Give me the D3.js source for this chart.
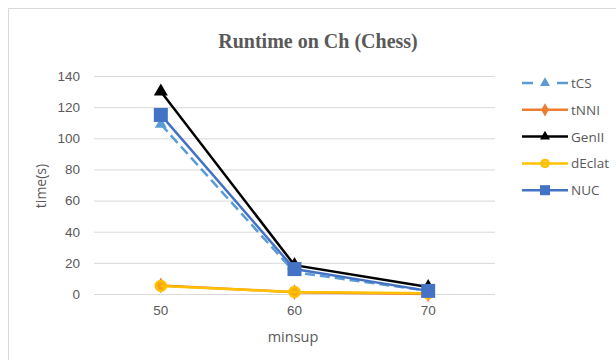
<!DOCTYPE html>
<html>
<head>
<meta charset="utf-8">
<script src="https://cdn.jsdelivr.net/npm/d3@7"></script>
<style>
  body { margin: 0; background: #fff; }
  svg { display: block; font-family: "Open Sans", "Noto Sans", sans-serif; }
  .tick text { fill: #595959; font-size: 13.5px; }
  .grid line { stroke: #d9d9d9; }
</style>
</head>
<body>
<svg id="chart" width="616" height="360"></svg>
<script>
// data
const categories = ['50', '60', '70'];
const tCS    = [109, 14, 2];
const tNNI   = [5.5, 1.2, 0];
const GenII  = [130, 18.5, 4.5];
const dEclat = [5.2, 1.3, 0.5];
const NUC    = [115, 16, 2];
const yTicks = [0, 20, 40, 60, 80, 100, 120, 140];

const series = [
    {name: 'tCS',    values: tCS,    color: '#5b9bd5', marker: 'triangle', dash: '10,5', size: 12},
    {name: 'tNNI',   values: tNNI,   color: '#ed7d31', marker: 'diamond',  dash: null,  size: 12},
    {name: 'GenII',  values: GenII,  color: '#000000', marker: 'triangle', dash: null,  size: 14},
    {name: 'dEclat', values: dEclat, color: '#ffc000', marker: 'circle',   dash: null,  size: 10},
    {name: 'NUC',    values: NUC,    color: '#4472c4', marker: 'square',   dash: null,  size: 14}
];

const svg = d3.select('#chart');
const margin = {top: 76, right: 121, bottom: 66, left: 94};
const width = 616 - margin.left - margin.right;
const height = 360 - margin.top - margin.bottom;

// outer frame (only top and left edges visible in the picture)
svg.append('path')
    .attr('d', 'M8.5,360 L8.5,8.5 L616,8.5')
    .attr('fill', 'none')
    .attr('stroke', '#d9d9d9')
    .attr('stroke-width', 1);

svg.append('text')
    .attr('x', 318).attr('y', 48)
    .attr('text-anchor', 'middle')
    .attr('font-family', '"Liberation Serif", "DejaVu Serif", serif')
    .attr('font-weight', 'bold')
    .attr('font-size', 20)
    .attr('fill', '#595959')
    .text('Runtime on Ch (Chess)');

const g = svg.append('g')
    .attr('transform', 'translate(' + margin.left + ',' + margin.top + ')');

const x = d3.scaleBand().domain(categories).range([0, width]);
const y = d3.scaleLinear().domain([0, 140]).range([height, 0]);

// gridlines
g.append('g').attr('class', 'grid')
    .call(d3.axisLeft(y).tickValues(yTicks).tickSize(-width).tickFormat(''))
    .call(a => a.select('.domain').remove());

// y labels
g.append('g')
    .call(d3.axisLeft(y).tickValues(yTicks).tickSize(0).tickPadding(14))
    .call(a => a.select('.domain').remove());

// x labels
g.append('g')
    .attr('transform', 'translate(0,' + height + ')')
    .call(d3.axisBottom(x).tickSize(0).tickPadding(11))
    .call(a => a.select('.domain').remove());

svg.append('text')
    .attr('transform', 'translate(46,186) rotate(-90)')
    .attr('text-anchor', 'middle')
    .attr('font-size', 14).attr('fill', '#595959')
    .text('time(s)');

svg.append('text')
    .attr('x', 293).attr('y', 342)
    .attr('text-anchor', 'middle')
    .attr('font-size', 14.5).attr('fill', '#595959')
    .text('minsup');

const cx = (d, i) => x(categories[i]) + x.bandwidth() / 2;
const line = d3.line().x(cx).y(d => y(d));

function symbolFor(s, size) {
    const types = {triangle: d3.symbolTriangle, diamond: d3.symbolDiamond,
                   circle: d3.symbolCircle, square: d3.symbolSquare};
    // area from a side length
    let area = size * size;
    if (s.marker === 'triangle') area = size * size * 0.433;
    if (s.marker === 'circle') area = Math.PI * size * size / 4;
    if (s.marker === 'diamond') area = size * size * 0.5;
    return d3.symbol().type(types[s.marker]).size(area)();
}

function drawMarker(sel, s, size) {
    const p = sel.append('path').attr('d', symbolFor(s, size));
    if (s.marker === 'circle') {
        p.attr('fill', '#ffc000').attr('fill-opacity', 0.6)
            .attr('stroke', s.color).attr('stroke-width', 2.5);
    } else {
        p.attr('fill', s.color);
    }
    return p;
}

series.forEach(s => {
    g.append('path')
        .attr('d', line(s.values))
        .attr('fill', 'none')
        .attr('stroke', s.color)
        .attr('stroke-width', 2.5)
        .attr('stroke-dasharray', s.dash);

    s.values.forEach((v, i) => {
        const m = g.append('g').attr('transform', 'translate(' + cx(v, i) + ',' + y(v) + ')');
        drawMarker(m, s, s.size);
    });
});

// legend
const legend = svg.append('g').attr('transform', 'translate(522,83)');
series.forEach((s, i) => {
    const row = legend.append('g').attr('transform', 'translate(0,' + (i * 26.8) + ')');
    row.append('line')
        .attr('x1', 0).attr('x2', 46)
        .attr('stroke', s.color).attr('stroke-width', 2.5)
        .attr('stroke-dasharray', s.dash ? '11,24' : null);
    const m = row.append('g').attr('transform', 'translate(23,0)');
    drawMarker(m, s, s.marker === 'circle' ? 7 : 10);
    row.append('text')
        .attr('x', 49).attr('y', 5)
        .attr('font-size', 13.5).attr('fill', '#595959')
        .text(s.name);
});
</script>
</body>
</html>
